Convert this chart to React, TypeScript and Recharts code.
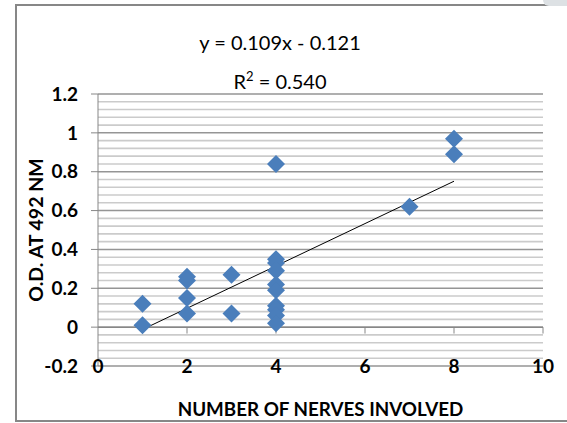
import { ScatterChart, Scatter, XAxis, YAxis, ReferenceLine } from "recharts";

// number of nerves involved per patient, and the matching optical density
const nerveCounts = [1, 1, 2, 2, 2, 2, 3, 3, 4, 4, 4, 4, 4, 4, 4, 4, 4, 4, 7, 8, 8];
const odValues = [
  0.12, 0.01, 0.26, 0.24, 0.15, 0.07, 0.27, 0.07, 0.84, 0.35, 0.33, 0.29, 0.22,
  0.19, 0.11, 0.09, 0.06, 0.02, 0.62, 0.97, 0.89,
];

// linear trendline as reported on the chart
const slope = 0.109;
const intercept = -0.121;
const rSquared = 0.54;

const xTicks = [0, 2, 4, 6, 8, 10];
const yTicks = [-0.2, 0, 0.2, 0.4, 0.6, 0.8, 1, 1.2];

const FONT = "Lato, 'Open Sans', sans-serif";
const BLUE = "#4a7ebb";
const AXIS = "#878787";

const points = nerveCounts.map((x, i) => ({ x, y: odValues[i] }));

const fitFrom = Math.min(...nerveCounts);
const fitTo = Math.max(...nerveCounts);
const trendSegment = [
  { x: fitFrom, y: slope * fitFrom + intercept },
  { x: fitTo, y: slope * fitTo + intercept },
];

// minor gridlines every 0.04 (majors are drawn separately)
const minorTicks: number[] = [];
for (let i = 0; i <= 35; i++) {
  if (i % 5 !== 0) minorTicks.push(Number((-0.2 + i * 0.04).toFixed(2)));
}

const fmt = (v: number) => String(Number(v.toFixed(1)));

function Diamond(props: any) {
  const { cx, cy } = props;
  if (cx == null || cy == null) return null;
  const r = 9;
  return (
    <polygon
      points={`${cx},${cy - r} ${cx + r},${cy} ${cx},${cy + r} ${cx - r},${cy}`}
      fill={BLUE}
    />
  );
}

function XTick(props: any) {
  const { x, y, payload } = props;
  return (
    <text
      x={x}
      y={y}
      dy="0.35em"
      textAnchor="middle"
      fontFamily={FONT}
      fontWeight={700}
      fontSize={19}
      fill="#000"
    >
      {payload.value}
    </text>
  );
}

function YTitle(props: any) {
  const { viewBox } = props;
  const cx = viewBox.x - 3;
  const cy = viewBox.y + viewBox.height / 2;
  return (
    <text
      x={cx}
      y={cy}
      transform={`rotate(-90 ${cx} ${cy})`}
      textAnchor="middle"
      dominantBaseline="central"
      fontFamily={FONT}
      fontWeight={700}
      fontSize={19.5}
      fill="#000"
    >
      O.D. AT 492 NM
    </text>
  );
}

function XTitle(props: any) {
  const { viewBox } = props;
  return (
    <text
      x={viewBox.x + viewBox.width / 2}
      y={viewBox.y + 42}
      textAnchor="middle"
      dominantBaseline="central"
      fontFamily={FONT}
      fontWeight={700}
      fontSize={18.8}
      fill="#000"
    >
      NUMBER OF NERVES INVOLVED
    </text>
  );
}

export default function App() {
  return (
    <div
      style={{
        position: "absolute",
        left: 0,
        top: 0,
        width: 567,
        height: 423,
        overflow: "hidden",
        background: "#fff",
      }}
    >
      <div
        style={{
          position: "absolute",
          left: 15,
          top: 4,
          width: 600,
          height: 418,
          boxSizing: "border-box",
          border: "2px solid #878787",
        }}
      />
      <div
        style={{
          position: "absolute",
          left: 543,
          top: 0,
          width: 30,
          height: 6,
          background: "#dde1e4",
          borderBottomLeftRadius: 6,
        }}
      />
      <div
        style={{
          position: "absolute",
          left: 160,
          top: 25,
          width: 240,
          textAlign: "center",
          fontFamily: FONT,
          fontSize: 20,
          lineHeight: "34px",
          color: "#000",
        }}
      >
        <div>
          y = {slope}x - {Math.abs(intercept)}
        </div>
        <div>
          R<sup style={{ fontSize: 13, verticalAlign: "8px" }}>2</sup> ={" "}
          {rSquared.toFixed(3)}
        </div>
      </div>
      <ScatterChart
        width={567}
        height={423}
        margin={{ top: 94, right: 24, bottom: 27, left: 38 }}
        style={{ position: "absolute", left: 0, top: 0 }}
      >
        <XAxis
          type="number"
          dataKey="x"
          domain={[0, 10]}
          ticks={xTicks}
          axisLine={false}
          tickLine={false}
          tickSize={0}
          tickMargin={0}
          height={30}
          tick={<XTick />}
          interval={0}
          label={<XTitle />}
        />
        <YAxis
          type="number"
          dataKey="y"
          domain={[-0.2, 1.2]}
          ticks={yTicks}
          interval={0}
          width={60}
          tickFormatter={fmt}
          tickSize={7}
          tickMargin={13}
          axisLine={{ stroke: AXIS }}
          tickLine={{ stroke: AXIS }}
          tick={{
            fontFamily: FONT,
            fontWeight: 700,
            fontSize: 19,
            fill: "#000",
          }}
          label={<YTitle />}
        />
        {minorTicks.map((v) => (
          <ReferenceLine key={`m${v}`} y={v} stroke="#cbcbcb" strokeWidth={1.6} />
        ))}
        {yTicks.map((v) => (
          <ReferenceLine key={`g${v}`} y={v} stroke="#959595" strokeWidth={1.5} />
        ))}
        {/* horizontal axis crosses at zero */}
        <ReferenceLine y={0} stroke={AXIS} strokeWidth={1.5} />
        {xTicks.slice(1).map((t) => (
          <ReferenceLine
            key={t}
            segment={[
              { x: t, y: 0 },
              { x: t, y: -0.033 },
            ]}
            stroke={AXIS}
          />
        ))}
        <Scatter data={points} shape={<Diamond />} isAnimationActive={false} />
        <ReferenceLine segment={trendSegment} stroke="#000" strokeWidth={1} />
      </ScatterChart>
    </div>
  );
}
